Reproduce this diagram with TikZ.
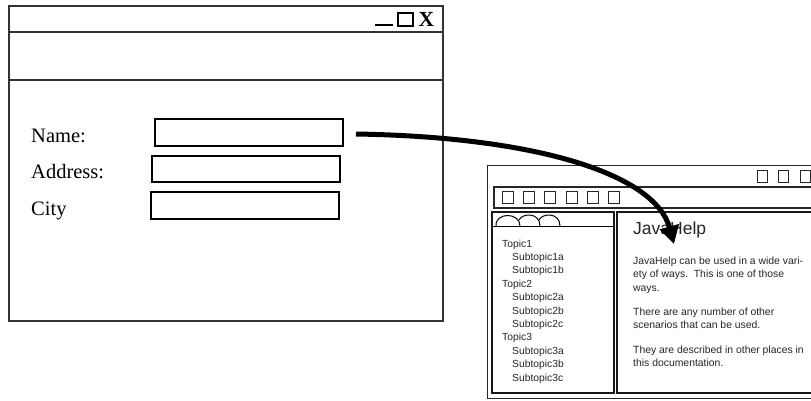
\documentclass[tikz,border=0pt]{standalone}
\usepackage{fontspec}
\setmainfont{Liberation Serif}
\newfontfamily\helpsans{Liberation Sans}
\usetikzlibrary{arrows.meta}
\begin{document}
\begin{tikzpicture}[x=1pt,y=-1pt,
  winline/.style={line width=1.5pt,draw=black!80},
  field/.style={draw=black,line width=2.6pt,inner sep=0pt},
  lbl/.style={anchor=base west,inner sep=0pt,font=\fontsize{20.5}{24}\selectfont},
  thinbox/.style={line width=0.8pt,draw=black!85},
  paneline/.style={line width=1.8pt,draw=black!90},
  listtxt/.style={anchor=base west,inner sep=0pt,font=\helpsans\fontsize{10.3}{12}\selectfont,text=black!85},
  bodytxt/.style={anchor=base west,inner sep=0pt,font=\helpsans\fontsize{10.4}{12}\selectfont,text=black!85},
  bigarrow/.style={line width=5pt,-{Triangle[length=18pt,width=19pt]}}
]
\clip (0,0) rectangle (811,400);
\fill[white] (0,0) rectangle (811,400);

% ---------- form window ----------
\draw[winline] (9,6) rectangle (443,321);
\draw[winline] (9,32) -- (443,32);
\draw[winline] (9,80) -- (443,80);
\draw[line width=1.5pt] (375,25) -- (393,25);
\draw[line width=1.2pt] (398,13) rectangle (413,26);
\node[anchor=base west,inner sep=0pt,font=\fontsize{21.5}{22}\selectfont\bfseries] (closex) at (418.5,26.5) {X};

\node[lbl] (namelbl) at (31,142) {Name:};
\node[lbl] (addrlbl) at (31,178) {Address:};
\node[lbl] (citylbl) at (31,215) {City};

\node[field,minimum width=188pt,minimum height=27pt] (namefield) at (249,132.5) {};
\node[field,minimum width=188pt,minimum height=26pt] (addrfield) at (246,169) {};
\node[field,minimum width=188pt,minimum height=27pt] (cityfield) at (245,205.5) {};

% ---------- help window ----------
\draw[line width=1pt,draw=black!85] (487,165) rectangle (830,398);
\foreach \x in {757,778,800} \draw[thinbox] (\x,170) rectangle +(10,12);
\draw[line width=1.2pt,draw=black!85] (494,187) rectangle (830,208);
\foreach \i in {0,...,5} \draw[thinbox] ({502+21.3*\i},191) rectangle +(11,12);

\draw[paneline] (492,212) rectangle (614,393);
\draw[paneline] (617,212) rectangle (830,393);
\draw[line width=1pt] (492,226) -- (614,226);
\draw[line width=1pt] (496,226) .. controls (495,212) and (520,212) .. (520,226);
\draw[line width=1pt] (519,220) .. controls (522,213) and (540,212) .. (540,226);
\draw[line width=1pt] (539,220) .. controls (542,213) and (560,212) .. (560,226);

\foreach \x/\t [count=\i] in {502/Topic1,512/Subtopic1a,512/Subtopic1b,502/Topic2,512/Subtopic2a,512/Subtopic2b,512/Subtopic2c,502/Topic3,512/Subtopic3a,512/Subtopic3b,512/Subtopic3c}
  \node[listtxt] (toc\i) at (\x,{247+13.4*(\i-1)}) {\t};

\node[anchor=base west,inner sep=0pt,font=\helpsans\fontsize{17.5}{20}\selectfont,text=black!85] (helptitle) at (633,234) {JavaHelp};
\node[bodytxt] (body1) at (633,264) {JavaHelp can be used in a wide vari-};
\node[bodytxt] (body2) at (633,277.5) {ety of ways.\ \ This is one of those};
\node[bodytxt] (body3) at (633,291) {ways.};
\node[bodytxt] (body4) at (633,315) {There are any number of other};
\node[bodytxt] (body5) at (633,328.5) {scenarios that can be used.};
\node[bodytxt] (body6) at (633,353) {They are described in other places in};
\node[bodytxt] (body7) at (633,366.5) {this documentation.};

% ---------- arrow ----------
\coordinate (arrowstart) at (356,134);
\coordinate (arrowtip) at (674,244);
\draw[bigarrow] (arrowstart) .. controls (540,137) and (655,175) .. (arrowtip);
\end{tikzpicture}
\end{document}
